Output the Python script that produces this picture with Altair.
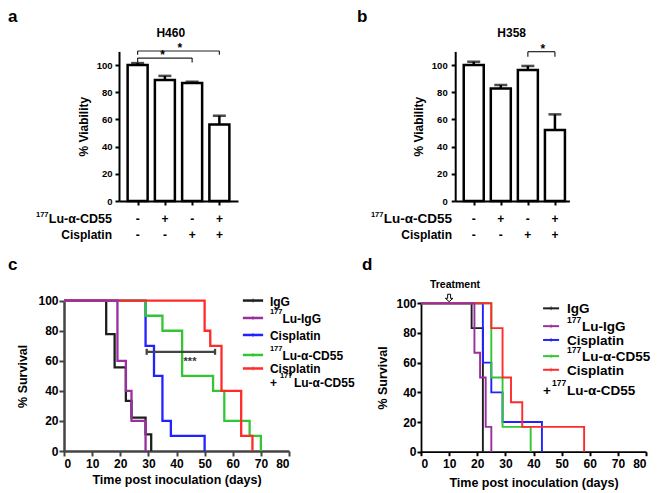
import altair as alt
import pandas as pd

FONT = "Liberation Sans"
W, H = 644, 485

# ---------------- data: panels a / b ----------------
bar_pos = [1, 2, 3, 4]
lu_signs = ["-", "+", "-", "+"]
cis_signs = ["-", "-", "+", "+"]
h460_mean = [100.0, 89.0, 86.8, 56.3]
h460_sem = [1.4, 3.0, 0.9, 6.4]
h358_mean = [100.0, 82.8, 96.3, 52.2]
h358_sem = [2.4, 2.5, 3.0, 11.5]
viab_ticks = [0, 20, 40, 60, 80, 100]

# ---------------- data: panel c (survival, %) ----------------
c_igg_t = [0, 15, 18, 22, 24, 29, 31]
c_igg_s = [100, 77.8, 55.6, 33.3, 22.2, 11.1, 0]
c_luigg_t = [0, 19, 22, 24, 29]
c_luigg_s = [100, 60, 40, 20, 0]
c_cis_t = [0, 29, 32, 35, 38, 50]
c_cis_s = [100, 70, 50, 20, 10, 0]
c_lucd_t = [0, 29, 35, 42, 53, 57, 66, 70]
c_lucd_s = [100, 90, 80, 50, 40, 20, 10, 0]
c_combo_t = [0, 50, 52, 56, 63, 67]
c_combo_s = [100, 80, 70, 40, 10, 0]

# ---------------- data: panel d (survival, %) ----------------
d_igg_t = [0, 18, 22]
d_igg_s = [100, 83.3, 0]
d_luigg_t = [0, 19, 21, 23, 25]
d_luigg_s = [100, 66.7, 50, 16.7, 0]
d_cis_t = [0, 22, 25, 29, 43]
d_cis_s = [100, 60, 40, 20, 0]
d_lucd_t = [0, 25, 29, 39]
d_lucd_s = [100, 50, 16.7, 0]
d_combo_t = [0, 25, 29, 32, 36, 58]
d_combo_s = [100, 83.3, 50, 33.3, 16.7, 0]

days_ticks = [0, 10, 20, 30, 40, 50, 60, 70, 80]
surv_ticks = [0, 20, 40, 60, 80, 100]

COL_IGG = "#1e1e1e"
COL_LUIGG = "#9a30a0"
COL_CIS = "#2222ff"
COL_LUCD = "#33c633"
COL_COMBO = "#ff2b2b"

ONE = pd.DataFrame({"k": [0]})


class Panel:
    """Holds one panel's scales and axes so every layer shares them."""

    def __init__(self, xs, ys, xaxis, yaxis):
        self.xs, self.ys, self.xaxis, self.yaxis = xs, ys, xaxis, yaxis

    def X(self, f):
        return alt.X(f"{f}:Q", scale=self.xs, axis=self.xaxis)

    def Y(self, f):
        return alt.Y(f"{f}:Q", scale=self.ys, axis=self.yaxis)

    def text(self, text, x, y, size, align="left", baseline="middle",
             color="black", dx=0, dy=0):
        data = pd.DataFrame({"x": [x], "y": [y]})
        return alt.Chart(data).mark_text(
            text=text, font=FONT, fontSize=size, fontWeight="bold",
            align=align, baseline=baseline, color=color, dx=dx, dy=dy
        ).encode(x=self.X("x"), y=self.Y("y"))


def ptext(text, x, y, size, align="left", baseline="middle", color="black"):
    """A text placed in pixels (panel letters, titles, row labels)."""
    return alt.Chart(ONE).mark_text(
        text=text, font=FONT, fontSize=size, fontWeight="bold", align=align,
        baseline=baseline, color=color
    ).encode(x=alt.value(x), y=alt.value(y))


# ---------------- bar panels ----------------
def bar_panel(mean, sem, xs, ys, yoff, xoff, label_pad, brackets, stars,
              title, title_x, letter, letter_x, row_right, lu_size):
    yaxis = alt.Axis(orient="left", offset=yoff, values=viab_ticks,
                     title="% Viability", titleFont=FONT, titleFontSize=12,
                     titleFontWeight="bold", titleColor="black", titlePadding=6,
                     labelFont=FONT, labelFontSize=9.5, labelFontWeight="bold",
                     labelColor="black", labelPadding=label_pad,
                     domainColor="black", domainWidth=2, tickColor="black",
                     tickWidth=2, tickSize=4, grid=False)
    xaxis = alt.Axis(orient="bottom", offset=xoff, values=bar_pos, labels=False,
                     title=None, domainColor="black", domainWidth=2,
                     tickColor="black", tickWidth=2, tickSize=4, grid=False)
    P = Panel(xs, ys, xaxis, yaxis)
    d = pd.DataFrame({"pos": bar_pos, "mean": mean,
                      "top": [m + s for m, s in zip(mean, sem)]})
    bars = alt.Chart(d).mark_bar(size=20, fill="white", stroke="black",
                                 strokeWidth=2.5).encode(
        x=P.X("pos"), y=P.Y("mean"))
    err = alt.Chart(d).mark_rule(color="black", strokeWidth=2.5).encode(
        x=P.X("pos"), y=P.Y("mean"), y2="top:Q")
    cap = alt.Chart(d).mark_tick(orient="horizontal", size=13, thickness=2.5,
                                 color="black").encode(
        x=P.X("pos"), y=P.Y("top"))
    br = pd.DataFrame(brackets, columns=["x", "x2", "y", "y2"])
    brk = alt.Chart(br).mark_rule(color="#222222", strokeWidth=1.2).encode(
        x=P.X("x"), x2="x2:Q", y=P.Y("y"), y2="y2:Q")
    layers = [bars, err, cap, brk]
    for sx, sy in stars:
        layers.append(P.text("*", sx, sy, 12, align="center",
                             baseline="alphabetic", dy=1))
    sg = pd.DataFrame({"pos": bar_pos, "lu": lu_signs, "cis": cis_signs})
    layers.append(alt.Chart(sg).mark_text(font=FONT, fontSize=12,
                                          fontWeight="bold").encode(
        x=P.X("pos"), y=alt.value(211), text="lu:N"))
    layers.append(alt.Chart(sg).mark_text(font=FONT, fontSize=12,
                                          fontWeight="bold").encode(
        x=P.X("pos"), y=alt.value(227), text="cis:N"))
    lu_w = lu_size * 5.04
    layers += [
        ptext("Lu-\u03b1-CD55", row_right, 211, lu_size, align="right"),
        ptext("177", row_right - lu_w - 0.5, 206.5, 7.5, align="right"),
        ptext("Cisplatin", row_right, 227, 12, align="right"),
        ptext(title, title_x, 25.3, 12, align="center"),
        ptext(letter, letter_x, 14, 17, baseline="alphabetic"),
    ]
    return alt.layer(*layers)


xa = alt.Scale(domain=[0.5, 4.5], range=[111, 230], nice=False, zero=False)
ya = alt.Scale(domain=[0, 110], range=[193, 43.4], nice=False)
panel_a = bar_panel(
    h460_mean, h460_sem, xa, ya, -111, 193 - H, 3,
    brackets=[(1, 4, 110.3, 110.3), (1, 1, 107.6, 110.3), (4, 4, 107.6, 110.3),
              (1, 3, 105.1, 105.1), (1, 1, 101.8, 105.1), (3, 3, 101.8, 105.1)],
    stars=[(2.55, 110.3), (1.92, 105.1)],
    title="H460", title_x=162.8, letter="a", letter_x=0,
    row_right=104, lu_size=12.5)

xb = alt.Scale(domain=[0.5, 4.35], range=[447.2, 561.4], nice=False, zero=False)
yb = alt.Scale(domain=[0, 110], range=[193, 43.4], nice=False)
panel_b = bar_panel(
    h358_mean, h358_sem, xb, yb, -447.2, 193 - H, 4,
    brackets=[(3, 4, 109.8, 109.8), (3, 3, 106.1, 109.8), (4, 4, 106.1, 109.8)],
    stars=[(3.55, 109.8)],
    title="H358", title_x=503.7, letter="b", letter_x=349,
    row_right=444, lu_size=13.5)


# ---------------- survival panels ----------------
def surv_panel(series, xs, ys, xoff, yoff, axcol, dom_w, tick_size, lab_pad_x,
               lab_pad_y, title_pad_x, title_pad_y, lw, legend, leg_x, leg_text,
               leg_size, sup_size, sup_dx, sup_dy, leg_lw, row6, letter,
               letter_x):
    xaxis = alt.Axis(orient="bottom", offset=xoff, values=days_ticks,
                     title="Time post inoculation (days)", titleFont=FONT,
                     titleFontSize=12.5, titleFontWeight="bold",
                     titleColor="black", titlePadding=title_pad_x,
                     labelFont=FONT, labelFontSize=12, labelFontWeight="bold",
                     labelColor="black", labelPadding=lab_pad_x,
                     domainColor=axcol, domainWidth=dom_w, tickColor=axcol,
                     tickWidth=2, tickSize=tick_size, grid=False)
    yaxis = alt.Axis(orient="left", offset=yoff, values=surv_ticks,
                     title="% Survival", titleFont=FONT, titleFontSize=12.5,
                     titleFontWeight="bold", titleColor="black",
                     titlePadding=title_pad_y, labelFont=FONT, labelFontSize=12,
                     labelFontWeight="bold", labelColor="black",
                     labelPadding=lab_pad_y, domainColor=axcol,
                     domainWidth=dom_w, tickColor=axcol, tickWidth=2,
                     tickSize=tick_size, grid=False)
    P = Panel(xs, ys, xaxis, yaxis)
    layers = []
    for t, s, col in series:
        d = pd.DataFrame({"t": t, "s": s})
        layers.append(alt.Chart(d).mark_line(
            interpolate="step-after", color=col, strokeWidth=lw).encode(
            x=P.X("t"), y=P.Y("s")))
    # legend
    lx0, lx1 = leg_x
    for name, sup, col, ly in legend:
        seg = pd.DataFrame({"x": [lx0], "x2": [lx1], "y": [ly],
                            "xm": [(lx0 + lx1) / 2]})
        layers.append(alt.Chart(seg).mark_rule(color=col, strokeWidth=leg_lw)
                      .encode(x=P.X("x"), x2="x2:Q", y=P.Y("y")))
        layers.append(alt.Chart(seg).mark_tick(orient="vertical", size=4,
                                               thickness=1, color=col)
                      .encode(x=P.X("xm"), y=P.Y("y")))
        if sup:
            layers.append(P.text(sup, leg_text, ly, sup_size, dy=sup_dy))
            layers.append(P.text(name, leg_text, ly, leg_size, dx=sup_dx, dy=1))
        else:
            layers.append(P.text(name, leg_text, ly, leg_size, dy=1))
    r6x, r6y, plus_dx, sup6_dx, main6_dx = row6
    layers.append(P.text("+", r6x, r6y, leg_size, dx=plus_dx, dy=1))
    layers.append(P.text("177", r6x, r6y, sup_size, dx=sup6_dx, dy=sup_dy))
    layers.append(P.text("Lu-\u03b1-CD55", r6x, r6y, leg_size, dx=main6_dx,
                         dy=1))
    layers.append(ptext(letter, letter_x, 262, 17, baseline="alphabetic"))
    return P, layers


xc = alt.Scale(domain=[0, 80], range=[56, 281], nice=False, zero=False)
yc = alt.Scale(domain=[0, 100], range=[443, 292.7], nice=False)
Pc, c_layers = surv_panel(
    [(c_igg_t, c_igg_s, COL_IGG), (c_cis_t, c_cis_s, COL_CIS),
     (c_lucd_t, c_lucd_s, COL_LUCD), (c_combo_t, c_combo_s, COL_COMBO),
     (c_luigg_t, c_luigg_s, COL_LUIGG)],
    xc, yc, 443 - H, -56, "#444444", 2.5, 5, 2, 1, 4, 8, 2.3,
    legend=[("IgG", None, COL_IGG, 100.1),
            ("Lu-IgG", "177", COL_LUIGG, 88.5),
            ("Cisplatin", None, COL_CIS, 77.2),
            ("Lu-\u03b1-CD55", "177", COL_LUCD, 63.9),
            ("Cisplatin", None, COL_COMBO, 54.9)],
    leg_x=(63.6, 70.8), leg_text=73.2, leg_size=12, sup_size=7.5, sup_dx=12.5,
    sup_dy=-5.5, leg_lw=2.5, row6=(73.2, 46.1, 0, 10, 24), letter="c",
    letter_x=0)
# significance bracket in panel c
cbr = pd.DataFrame({"x": [29.4, 29.4, 53.7], "x2": [53.7, 29.4, 53.7],
                    "y": [66.0, 64.0, 64.0], "y2": [66.0, 68.0, 68.0]})
c_layers.append(alt.Chart(cbr).mark_rule(color="#444444", strokeWidth=2.3)
                .encode(x=Pc.X("x"), x2="x2:Q", y=Pc.Y("y"), y2="y2:Q"))
c_layers.append(Pc.text("***", 44.8, 57.5, 11, align="center",
                        baseline="alphabetic", color="#333333"))
panel_c = alt.layer(*c_layers)

xd = alt.Scale(domain=[0, 80], range=[413, 638], nice=False, zero=False)
yd = alt.Scale(domain=[0, 100], range=[443.7, 295.3], nice=False)
Pd, d_layers = surv_panel(
    [(d_igg_t, d_igg_s, COL_IGG), (d_cis_t, d_cis_s, COL_CIS),
     (d_lucd_t, d_lucd_s, COL_LUCD), (d_combo_t, d_combo_s, COL_COMBO),
     (d_luigg_t, d_luigg_s, COL_LUIGG)],
    xd, yd, 443.7 - H, -413, "black", 1.8, 4, 3, 1, 7, 6, 1.9,
    legend=[("IgG", None, COL_IGG, 96.6),
            ("Lu-IgG", "177", COL_LUIGG, 84.6),
            ("Cisplatin", None, COL_CIS, 75.3),
            ("Lu-\u03b1-CD55", "177", COL_LUCD, 64.4),
            ("Cisplatin", None, COL_COMBO, 55.2)],
    leg_x=(43.4, 49.1), leg_text=51.9, leg_size=13.5, sup_size=8.5, sup_dx=15,
    sup_dy=-6.5, leg_lw=2, row6=(43.4, 41.6, 0, 9, 24), letter="d",
    letter_x=354)
# treatment marker
arrow = ("M-0.4,-1 L0.4,-1 L0.4,0.1 L1,0.1 L0,1 L-1,0.1 L-0.4,0.1 Z")
treat = pd.DataFrame({"t": [10], "y": [103.6]})
d_layers.append(alt.Chart(treat).mark_point(
    shape=arrow, size=55, filled=False, stroke="black", strokeWidth=1,
    opacity=1).encode(x=Pd.X("t"), y=Pd.Y("y")))
d_layers.append(Pd.text("Treatment", 12.1, 112.3, 10.5, align="center"))
panel_d = alt.layer(*d_layers)

chart = alt.layer(panel_a, panel_b, panel_c, panel_d).resolve_scale(
    x="independent", y="independent"
).properties(
    width=W, height=H, padding=0, autosize=alt.AutoSizeParams(type="none")
).configure_view(stroke=None).configure_axis(grid=False)

chart.save("out.html", embed_options={"renderer": "svg", "actions": False})
